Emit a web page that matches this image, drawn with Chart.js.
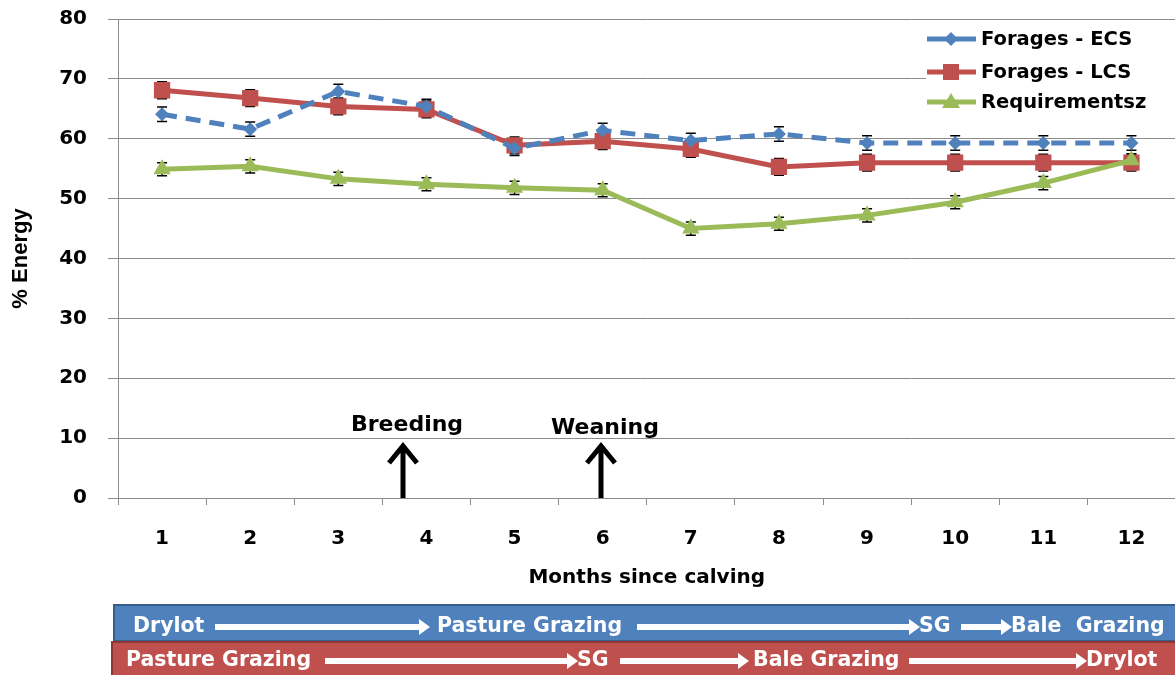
<!DOCTYPE html>
<html>
<head>
<meta charset="utf-8">
<script src="https://cdn.jsdelivr.net/npm/chart.js@4/dist/chart.umd.min.js"></script>
<style>
  html, body { margin: 0; padding: 0; background: #fff; overflow: hidden; }
  #wrap { width: 1175px; height: 675px; overflow: hidden; }
</style>
</head>
<body>
<div id="wrap"><canvas id="chart" width="1187" height="675"></canvas></div>
<script>
// months since calving
const months = ["1", "2", "3", "4", "5", "6", "7", "8", "9", "10", "11", "12"];
// % energy
const ecsValues = [64.1, 61.6, 67.9, 65.4, 58.4, 61.4, 59.7, 60.8, 59.3, 59.3, 59.3, 59.3];
const lcsValues = [68.1, 66.8, 65.4, 64.9, 58.9, 59.6, 58.3, 55.3, 56.0, 56.0, 56.0, 56.0];
const reqValues = [54.9, 55.4, 53.3, 52.4, 51.8, 51.4, 45.0, 45.8, 47.2, 49.4, 52.6, 56.4];
// error bar half widths
const ecsErr = [1.2, 1.2, 1.2, 1.2, 1.2, 1.2, 1.2, 1.2, 1.2, 1.2, 1.2, 1.2];
const lcsErr = [1.4, 1.4, 1.4, 1.4, 1.4, 1.4, 1.4, 1.4, 1.4, 1.4, 1.4, 1.4];
const reqErr = [1.1, 1.1, 1.1, 1.1, 1.1, 1.1, 1.1, 1.1, 1.1, 1.1, 1.1, 1.1];
const yTicks = [0, 10, 20, 30, 40, 50, 60, 70, 80];

const BLUE = "#4F81BD", RED = "#C0504D", GREEN = "#9BBB59";
const FONT = "'DejaVu Sans', Verdana, sans-serif";

//error bars, drawn under the lines/markers
const errorBars = {
  id: "errorBars",
  beforeDatasetsDraw(chart) {
    const ctx = chart.ctx;
    const y = chart.scales.y;
    ctx.save();
    ctx.strokeStyle = "#000";
    ctx.lineWidth = 1.5;
    chart.data.datasets.forEach((ds, i) => {
      const meta = chart.getDatasetMeta(i);
      meta.data.forEach((pt, j) => {
        const v = ds.data[j], e = ds.err[j];
        const top = y.getPixelForValue(v + e), bot = y.getPixelForValue(v - e);
        ctx.beginPath();
        ctx.moveTo(pt.x, top); ctx.lineTo(pt.x, bot);
        ctx.moveTo(pt.x - 5, top); ctx.lineTo(pt.x + 5, top);
        ctx.moveTo(pt.x - 5, bot); ctx.lineTo(pt.x + 5, bot);
        ctx.stroke();
      });
    });
    ctx.restore();
  }
};

function marker(ctx, style, x, y, color) {
  ctx.fillStyle = color;
  ctx.beginPath();
  if (style == "diamond") {
    ctx.moveTo(x, y - 7); ctx.lineTo(x + 7, y); ctx.lineTo(x, y + 7); ctx.lineTo(x - 7, y);
  } else if (style == "square") {
    ctx.rect(x - 8, y - 8, 16, 16);
  } else {
    ctx.moveTo(x, y - 9); ctx.lineTo(x + 9, y + 6); ctx.lineTo(x - 9, y + 6);
  }
  ctx.closePath();
  ctx.fill();
}

function whiteArrow(ctx, x1, x2, y) {
  ctx.fillStyle = "#fff";
  ctx.fillRect(x1, y - 3, x2 - x1 - 10, 6);
  ctx.beginPath();
  ctx.moveTo(x2 - 11, y - 8); ctx.lineTo(x2, y); ctx.lineTo(x2 - 11, y + 8);
  ctx.closePath();
  ctx.fill();
}

function upArrow(ctx, x, label, ly) {
  ctx.save();
  ctx.strokeStyle = "#000";
  ctx.lineWidth = 5;
  ctx.beginPath();
  ctx.moveTo(x, 498); ctx.lineTo(x, 446);
  ctx.moveTo(x - 14, 463); ctx.lineTo(x, 446); ctx.lineTo(x + 14, 463);
  ctx.stroke();
  ctx.fillStyle = "#000";
  ctx.font = "bold 22px " + FONT;
  ctx.textAlign = "center";
  ctx.textBaseline = "middle";
  ctx.fillText(label, x + 4, ly);
  ctx.restore();
}

const extras = {
  id: "extras",
  afterDraw(chart) {
    const ctx = chart.ctx;
    ctx.save();
    // legend
    ctx.fillStyle = "#fff";
    ctx.fillRect(926, 24, 260, 92);
    const items = [
      ["Forages - ECS", BLUE, "diamond", 39],
      ["Forages - LCS", RED, "square", 72],
      ["Requirementsz", GREEN, "triangle", 102],
    ];
    items.forEach(([txt, col, st, yy]) => {
      ctx.strokeStyle = col;
      ctx.lineWidth = 5;
      ctx.beginPath(); ctx.moveTo(927, yy); ctx.lineTo(976, yy); ctx.stroke();
      marker(ctx, st, 951, yy, col);
      ctx.fillStyle = "#000";
      ctx.font = "bold 19.5px " + FONT;
      ctx.textBaseline = "middle";
      ctx.textAlign = "left";
      ctx.fillText(txt, 981, yy + 1);
    });

    upArrow(ctx, 403, "Breeding", 425);
    upArrow(ctx, 601, "Weaning", 428);

    // management bars
    ctx.fillStyle = BLUE;
    ctx.fillRect(113, 604, 1080, 37);
    ctx.strokeStyle = "#385D8A";
    ctx.lineWidth = 2;
    ctx.strokeRect(114, 605, 1080, 36);
    ctx.fillStyle = RED;
    ctx.fillRect(111, 641, 1080, 36);
    ctx.strokeStyle = "#8C3836";
    ctx.strokeRect(112, 642, 1080, 36);

    ctx.font = "bold 20.5px " + FONT;
    ctx.textBaseline = "middle";
    ctx.textAlign = "left";
    ctx.fillStyle = "#fff";
    const blueRow = 627, redRow = 661;
    ctx.fillText("Drylot", 133, blueRow);
    whiteArrow(ctx, 215, 430, blueRow);
    ctx.fillStyle = "#fff";
    ctx.fillText("Pasture Grazing", 437, blueRow);
    whiteArrow(ctx, 637, 920, blueRow);
    ctx.fillText("SG", 919, blueRow);
    whiteArrow(ctx, 961, 1012, blueRow);
    ctx.fillText("Bale  Grazing", 1011, blueRow);

    ctx.fillText("Pasture Grazing", 126, redRow);
    whiteArrow(ctx, 325, 578, redRow);
    ctx.fillText("SG", 577, redRow);
    whiteArrow(ctx, 620, 749, redRow);
    ctx.fillText("Bale Grazing", 753, redRow);
    whiteArrow(ctx, 909, 1087, redRow);
    ctx.fillText("Drylot", 1086, redRow);
    ctx.restore();
  }
};

new Chart(document.getElementById("chart"), {
  type: "line",
  plugins: [errorBars, extras],
  data: {
    labels: months,
    datasets: [
      {
        label: "Forages - ECS", data: ecsValues, err: ecsErr,
        borderColor: BLUE, backgroundColor: BLUE, borderWidth: 5,
        borderDash: [15, 9], pointStyle: "rectRot", pointRadius: 7, pointBorderWidth: 0,
        order: 1
      },
      {
        label: "Forages - LCS", data: lcsValues, err: lcsErr,
        borderColor: RED, backgroundColor: RED, borderWidth: 5,
        pointStyle: "rect", pointRadius: 11.5, pointBorderWidth: 0,
        order: 2
      },
      {
        label: "Requirementsz", data: reqValues, err: reqErr,
        borderColor: GREEN, backgroundColor: GREEN, borderWidth: 5,
        pointStyle: "triangle", pointRadius: 10, pointBorderWidth: 0,
        order: 0
      }
    ]
  },
  options: {
    responsive: false,
    animation: false,
    devicePixelRatio: 1,
    layout: { padding: { top: 19, right: 0, bottom: 85, left: 0 } },
    plugins: { legend: { display: false }, tooltip: { enabled: false } },
    scales: {
      x: {
        offset: true,
        grid: { offset: true, drawOnChartArea: false, drawTicks: true, tickLength: 7, color: "#8c8c8c" },
        border: { color: "#8c8c8c" },
        ticks: { color: "#000", padding: 22, font: { family: FONT, size: 20, weight: "bold" } },
        title: {
          display: true, text: "Months since calving", color: "#000",
          font: { family: FONT, size: 20, weight: "bold" }, padding: { top: 0, bottom: 0 }
        },
        afterFit(s) { s.height = 92; }
      },
      y: {
        min: 0, max: 80,
        afterBuildTicks(s) { s.ticks = yTicks.map(v => ({ value: v })); },
        grid: { color: "#8c8c8c", tickLength: 10 },
        border: { color: "#8c8c8c" },
        ticks: { color: "#000", padding: 21, font: { family: FONT, size: 20, weight: "bold" } },
        title: {
          display: true, text: "% Energy", color: "#000",
          font: { family: "'Liberation Sans Narrow', 'Liberation Sans', sans-serif", size: 22, weight: "bold" },
          padding: { top: 8, bottom: 0 }
        },
        afterFit(s) { s.width = 118; s.paddingTop = 0; s.paddingBottom = 0; }
      }
    }
  }
});
</script>
</body>
</html>
